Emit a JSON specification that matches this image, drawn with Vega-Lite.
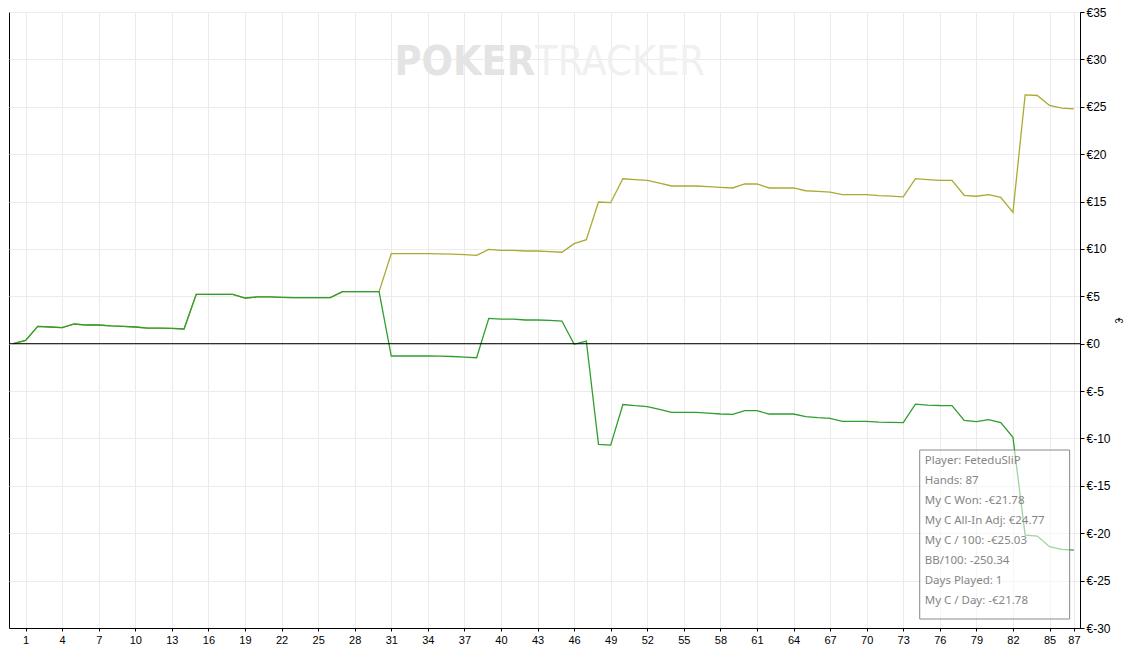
{
  "$schema": "https://vega.github.io/schema/vega-lite/v6.json",
  "width": 1071,
  "height": 616,
  "autosize": {"type": "none"},
  "padding": {"left": 9, "top": 12, "right": 46, "bottom": 27},
  "background": "white",
  "config": {
    "view": {"stroke": "black", "strokeWidth": 1},
    "axis": {"labelFont": "Liberation Sans", "labelFontSize": 12, "labelColor": "black", "domainColor": "black", "tickColor": "black", "gridColor": "#ebebeb", "gridWidth": 1, "labelFlush": false, "labelOverlap": false}
  },
  "datasets": {
    "hands": [
      {"hand": 0, "won": 0, "adj": 0},
      {"hand": 1, "won": 0.35, "adj": 0.35},
      {"hand": 2, "won": 1.83, "adj": 1.83},
      {"hand": 3, "won": 1.76, "adj": 1.76},
      {"hand": 4, "won": 1.69, "adj": 1.69},
      {"hand": 5, "won": 2.08, "adj": 2.08},
      {"hand": 6, "won": 1.97, "adj": 1.97},
      {"hand": 7, "won": 1.97, "adj": 1.97},
      {"hand": 8, "won": 1.87, "adj": 1.87},
      {"hand": 9, "won": 1.83, "adj": 1.83},
      {"hand": 10, "won": 1.76, "adj": 1.76},
      {"hand": 11, "won": 1.65, "adj": 1.65},
      {"hand": 12, "won": 1.65, "adj": 1.65},
      {"hand": 13, "won": 1.62, "adj": 1.62},
      {"hand": 14, "won": 1.55, "adj": 1.55},
      {"hand": 15, "won": 5.21, "adj": 5.21},
      {"hand": 16, "won": 5.21, "adj": 5.21},
      {"hand": 17, "won": 5.21, "adj": 5.21},
      {"hand": 18, "won": 5.21, "adj": 5.21},
      {"hand": 19, "won": 4.82, "adj": 4.82},
      {"hand": 20, "won": 4.93, "adj": 4.93},
      {"hand": 21, "won": 4.93, "adj": 4.93},
      {"hand": 22, "won": 4.89, "adj": 4.89},
      {"hand": 23, "won": 4.86, "adj": 4.86},
      {"hand": 24, "won": 4.86, "adj": 4.86},
      {"hand": 25, "won": 4.86, "adj": 4.86},
      {"hand": 26, "won": 4.86, "adj": 4.86},
      {"hand": 27, "won": 5.49, "adj": 5.49},
      {"hand": 28, "won": 5.49, "adj": 5.49},
      {"hand": 29, "won": 5.49, "adj": 5.49},
      {"hand": 30, "won": 5.49, "adj": 5.49},
      {"hand": 31, "won": -1.30, "adj": 9.50},
      {"hand": 32, "won": -1.30, "adj": 9.50},
      {"hand": 33, "won": -1.30, "adj": 9.50},
      {"hand": 34, "won": -1.30, "adj": 9.50},
      {"hand": 35, "won": -1.32, "adj": 9.48},
      {"hand": 36, "won": -1.35, "adj": 9.45},
      {"hand": 37, "won": -1.41, "adj": 9.40},
      {"hand": 38, "won": -1.48, "adj": 9.32},
      {"hand": 39, "won": 2.67, "adj": 9.95},
      {"hand": 40, "won": 2.60, "adj": 9.85},
      {"hand": 41, "won": 2.60, "adj": 9.85},
      {"hand": 42, "won": 2.50, "adj": 9.78},
      {"hand": 43, "won": 2.50, "adj": 9.78},
      {"hand": 44, "won": 2.46, "adj": 9.71},
      {"hand": 45, "won": 2.39, "adj": 9.65},
      {"hand": 46, "won": -0.07, "adj": 10.56},
      {"hand": 47, "won": 0.28, "adj": 10.98},
      {"hand": 48, "won": -10.63, "adj": 14.95},
      {"hand": 49, "won": -10.70, "adj": 14.88},
      {"hand": 50, "won": -6.42, "adj": 17.40},
      {"hand": 51, "won": -6.54, "adj": 17.31},
      {"hand": 52, "won": -6.63, "adj": 17.23},
      {"hand": 53, "won": -6.93, "adj": 16.95},
      {"hand": 54, "won": -7.25, "adj": 16.64},
      {"hand": 55, "won": -7.25, "adj": 16.64},
      {"hand": 56, "won": -7.25, "adj": 16.64},
      {"hand": 57, "won": -7.32, "adj": 16.57},
      {"hand": 58, "won": -7.42, "adj": 16.50},
      {"hand": 59, "won": -7.46, "adj": 16.43},
      {"hand": 60, "won": -7.07, "adj": 16.85},
      {"hand": 61, "won": -7.07, "adj": 16.85},
      {"hand": 62, "won": -7.42, "adj": 16.43},
      {"hand": 63, "won": -7.42, "adj": 16.43},
      {"hand": 64, "won": -7.42, "adj": 16.43},
      {"hand": 65, "won": -7.70, "adj": 16.14},
      {"hand": 66, "won": -7.81, "adj": 16.07},
      {"hand": 67, "won": -7.88, "adj": 16.00},
      {"hand": 68, "won": -8.20, "adj": 15.72},
      {"hand": 69, "won": -8.20, "adj": 15.72},
      {"hand": 70, "won": -8.20, "adj": 15.72},
      {"hand": 71, "won": -8.27, "adj": 15.62},
      {"hand": 72, "won": -8.30, "adj": 15.58},
      {"hand": 73, "won": -8.33, "adj": 15.50},
      {"hand": 74, "won": -6.38, "adj": 17.42},
      {"hand": 75, "won": -6.48, "adj": 17.32},
      {"hand": 76, "won": -6.52, "adj": 17.24},
      {"hand": 77, "won": -6.53, "adj": 17.24},
      {"hand": 78, "won": -8.09, "adj": 15.66},
      {"hand": 79, "won": -8.23, "adj": 15.56},
      {"hand": 80, "won": -8.02, "adj": 15.73},
      {"hand": 81, "won": -8.33, "adj": 15.45},
      {"hand": 82, "won": -9.88, "adj": 13.85},
      {"hand": 83, "won": -20.19, "adj": 26.26},
      {"hand": 84, "won": -20.30, "adj": 26.19},
      {"hand": 85, "won": -21.42, "adj": 25.14},
      {"hand": 86, "won": -21.70, "adj": 24.86},
      {"hand": 87, "won": -21.78, "adj": 24.77}
    ]
  },
  "layer": [
    {
      "data": {"name": "hands"},
      "mark": {"type": "line", "color": "#aaaa33", "strokeWidth": 1.3, "clip": true},
      "encoding": {
        "x": {"field": "hand", "type": "quantitative", "scale": {"domain": [-0.36, 87.5], "nice": false, "zero": false},
          "axis": {"orient": "bottom", "title": null, "values": [1,4,7,10,13,16,19,22,25,28,31,34,37,40,43,46,49,52,55,58,61,64,67,70,73,76,79,82,85,87], "tickCount": 100, "grid": true, "tickSize": 3, "labelPadding": 3, "labelOverlap": false, "labelFontSize": 11}},
        "y": {"field": "adj", "type": "quantitative", "scale": {"domain": [-30, 35], "nice": false, "zero": false},
          "axis": {"orient": "right", "title": "€", "titleFontSize": 10, "titleFont": "Liberation Sans", "titleFontWeight": "normal", "titlePadding": 2, "values": [-30,-25,-20,-15,-10,-5,0,5,10,15,20,25,30,35], "tickCount": 100, "labelExpr": "'€' + datum.value", "grid": true, "tickSize": 4, "labelPadding": 2, "labelAlign": "left", "labelOverlap": false}}
      }
    },
    {
      "data": {"name": "hands"},
      "mark": {"type": "line", "color": "#2e9e2e", "strokeWidth": 1.3, "clip": true},
      "encoding": {
        "x": {"field": "hand", "type": "quantitative"},
        "y": {"field": "won", "type": "quantitative"}
      }
    },
    {
      "data": {"values": [{}]},
      "mark": {"type": "rule", "color": "black", "strokeWidth": 1},
      "encoding": {"y": {"datum": 0, "type": "quantitative"}}
    },
    {
      "data": {"values": [{}]},
      "mark": {"type": "text", "text": "POKER", "align": "right", "baseline": "middle", "font": "DejaVu Sans Condensed, Liberation Sans Narrow, sans-serif", "fontWeight": "bold", "fontSize": 41, "color": "#e4e4e4"},
      "encoding": {"x": {"datum": 42.8, "type": "quantitative"}, "y": {"datum": 29.6, "type": "quantitative"}}
    },
    {
      "data": {"values": [{}]},
      "mark": {"type": "text", "text": "TRACKER", "align": "left", "baseline": "middle", "font": "DejaVu Sans Condensed, Liberation Sans Narrow, sans-serif", "fontSize": 41, "color": "#f0f0f0"},
      "encoding": {"x": {"datum": 42.8, "type": "quantitative"}, "y": {"datum": 29.6, "type": "quantitative"}}
    },
    {
      "data": {"values": [{}]},
      "mark": {"type": "rect", "fill": "white", "fillOpacity": 0.55, "stroke": "#8a8a8a", "strokeWidth": 1},
      "encoding": {
        "x": {"datum": 74.35, "type": "quantitative"},
        "x2": {"datum": 86.65},
        "y": {"datum": -11.22, "type": "quantitative"},
        "y2": {"datum": -29.05}
      }
    },
    {
      "data": {"values": [{}]},
      "mark": {"type": "text", "align": "left", "baseline": "top", "font": "Noto Sans", "fontSize": 11.5, "lineHeight": 20, "color": "#858585",
        "text": ["Player: FeteduSliP", "Hands: 87", "My C Won: -€21.78", "My C All-In Adj: €24.77", "My C / 100: -€25.03", "BB/100: -250.34", "Days Played: 1", "My C / Day: -€21.78"]},
      "encoding": {"x": {"datum": 74.76, "type": "quantitative"}, "y": {"datum": -11.75, "type": "quantitative"}}
    }
  ]
}
